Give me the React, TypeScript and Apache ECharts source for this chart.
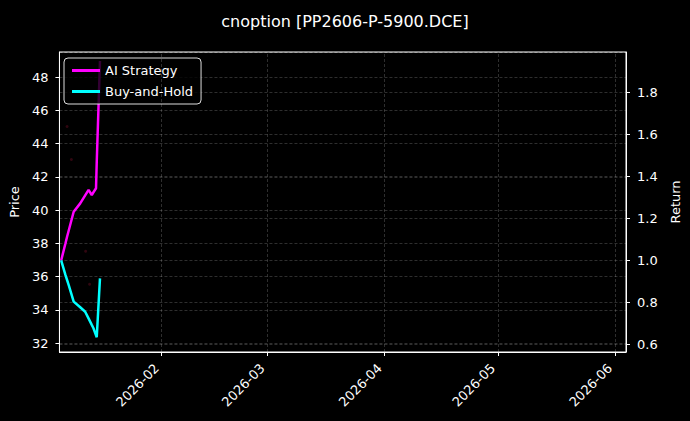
import React, { useEffect, useRef } from 'react';
import * as echarts from 'echarts';

// sample times (UTC)
const times = [
  '2026-01-05T09:00:00Z',
  '2026-01-06T12:00:00Z',
  '2026-01-06T22:30:00Z',
  '2026-01-07T09:00:00Z',
  '2026-01-08T16:30:00Z',
  '2026-01-10T10:00:00Z',
  '2026-01-11T17:30:00Z',
  '2026-01-12T15:00:00Z',
  '2026-01-13T11:30:00Z',
  '2026-01-13T22:15:00Z',
  '2026-01-14T14:30:00Z',
  '2026-01-14T19:00:00Z',
  '2026-01-15T15:40:00Z',
];
const strategyReturn = [1.0, 1.081, 1.113, 1.143, 1.232, 1.272, 1.31, 1.336, 1.312, 1.325, 1.344, 1.467, 1.95];
const holdReturn = [1.0, 0.931, 0.907, 0.883, 0.804, 0.777, 0.756, 0.724, 0.693, 0.677, 0.643, 0.634, 0.915];

// faint price markers
const priceTimes = ['2026-01-06T22:30:00Z', '2026-01-08T02:00:00Z', '2026-01-11T20:30:00Z', '2026-01-12T21:40:00Z'];
const priceValues = [45.03, 43.04, 37.52, 35.54];

const monthTicks = ['2026-02-01T00:00:00Z', '2026-03-01T00:00:00Z', '2026-04-01T00:00:00Z', '2026-05-01T00:00:00Z', '2026-06-01T00:00:00Z'];

const FONT = 'DejaVu Sans';
const gridLine = { color: 'rgba(255,255,255,0.3)', width: 0.6, type: [3, 2] as number[] };

const App: React.FC = () => {
  const chartRef = useRef<HTMLDivElement>(null);

  useEffect(() => {
    if (!chartRef.current) return;
    document.body.style.margin = '0';
    document.body.style.background = '#000';
    const chart = echarts.init(chartRef.current, null, { renderer: 'svg' });

    const ts = (s: string) => Date.parse(s);
    const monthValues = monthTicks.map(ts);

    const option: echarts.EChartsOption = {
      animation: false,
      backgroundColor: '#000',
      textStyle: { fontFamily: FONT },
      title: {
        text: 'cnoption [PP2606-P-5900.DCE]',
        left: 'center',
        top: 8,
        textStyle: { color: '#fff', fontSize: 16, fontWeight: 'normal', fontFamily: FONT },
      },
      legend: {
        data: ['AI Strategy', 'Buy-and-Hold'],
        orient: 'vertical',
        left: 64,
        top: 58,
        padding: [6, 8],
        itemGap: 8,
        itemWidth: 28,
        itemHeight: 3,
        icon: 'rect',
        borderColor: '#ddd',
        borderWidth: 1,
        borderRadius: 4,
        backgroundColor: 'rgba(0,0,0,0.8)',
        textStyle: { color: '#fff', fontSize: 13, fontFamily: FONT },
      },
      grid: {
        left: 58,
        right: 62,
        top: 52,
        bottom: 69,
        show: true,
        borderColor: '#fff',
        borderWidth: 1,
      },
      xAxis: {
        type: 'value',
        min: Date.UTC(2026, 0, 4, 22),
        max: Date.UTC(2026, 5, 3, 23),
        axisLine: { onZero: false, lineStyle: { color: '#fff', width: 1 } },
        axisTick: { show: true, length: 4, lineStyle: { color: '#fff' }, customValues: monthValues } as any,
        axisLabel: {
          color: '#fff',
          fontSize: 13,
          rotate: 45,
          margin: 9,
          padding: [0, 7, 0, 0],
          customValues: monthValues,
          formatter: (v: number) => {
            const d = new Date(v);
            return `${d.getUTCFullYear()}-${String(d.getUTCMonth() + 1).padStart(2, '0')}`;
          },
        } as any,
        splitLine: { show: false },
      },
      yAxis: [
        {
          type: 'value',
          position: 'left',
          min: 31.46,
          max: 49.51,
          minInterval: 2,
          maxInterval: 2,
          name: 'Price',
          nameLocation: 'middle',
          nameGap: 38,
          nameRotate: 90,
          nameTextStyle: { color: '#fff', fontSize: 13 },
          axisLine: { show: true, lineStyle: { color: '#fff' } },
          axisTick: { show: true, length: 4, lineStyle: { color: '#fff' } },
          axisLabel: { color: '#fff', fontSize: 13, margin: 11, showMinLabel: false, showMaxLabel: false },
          splitLine: { show: true, lineStyle: gridLine },
        },
        {
          type: 'value',
          position: 'right',
          min: 0.564,
          max: 1.993,
          minInterval: 0.2,
          maxInterval: 0.2,
          name: 'Return',
          nameLocation: 'middle',
          nameGap: 43,
          nameRotate: 90,
          nameTextStyle: { color: '#fff', fontSize: 13 },
          axisLine: { show: true, lineStyle: { color: '#fff' } },
          axisTick: { show: true, length: 4, lineStyle: { color: '#fff' } },
          axisLabel: {
            color: '#fff',
            fontSize: 13,
            margin: 11,
            showMinLabel: false,
            showMaxLabel: false,
            formatter: (v: number) => v.toFixed(1),
          },
          splitLine: { show: true, lineStyle: gridLine },
        },
      ],
      series: [
        {
          name: 'Price',
          type: 'scatter',
          yAxisIndex: 0,
          z: 1,
          symbolSize: 3,
          itemStyle: { color: 'rgba(150,20,50,0.4)' },
          data: priceTimes.map((t, i) => [ts(t), priceValues[i]]),
          markLine: {
            silent: true,
            symbol: 'none',
            label: { show: false },
            lineStyle: gridLine,
            data: monthValues.map((v) => ({ xAxis: v })),
          },
        },
        {
          name: 'AI Strategy',
          type: 'line',
          yAxisIndex: 1,
          z: 3,
          showSymbol: false,
          color: '#ff00ff',
          lineStyle: { width: 2.5, color: '#ff00ff' },
          data: times.map((t, i) => [ts(t), strategyReturn[i]]),
        },
        {
          name: 'Buy-and-Hold',
          type: 'line',
          yAxisIndex: 1,
          z: 3,
          showSymbol: false,
          color: '#00ffff',
          lineStyle: { width: 2.5, color: '#00ffff' },
          data: times.map((t, i) => [ts(t), holdReturn[i]]),
        },
      ],
    };

    chart.setOption(option);

    return () => {
      chart.dispose();
    };
  }, []);

  return <div ref={chartRef} style={{ width: '690px', height: '421px', background: '#000' }} />;
};

export default App;
